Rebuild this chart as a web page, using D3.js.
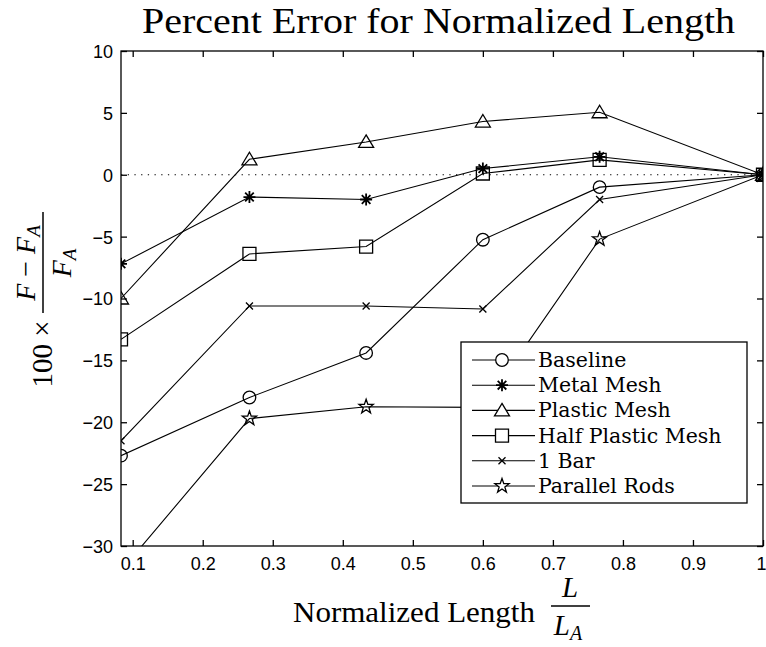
<!DOCTYPE html>
<html>
<head>
<meta charset="utf-8">
<script src="https://cdn.jsdelivr.net/npm/d3@7"></script>
<style>
  html, body { margin: 0; padding: 0; background: #fff; }
  svg { display: block; }
  .tick text { font-family: "Liberation Sans", Arial, sans-serif; font-size: 18px; fill: #000; }
</style>
</head>
<body>
<div id="chart"></div>
<script>
// ---------------- data ----------------
const lengths = [0.0833, 0.2667, 0.4333, 0.6, 0.7667, 1.0];
const seriesNames = ["Baseline", "Metal Mesh", "Plastic Mesh", "Half Plastic Mesh", "1 Bar", "Parallel Rods"];
const baseline        = [-22.7, -18.0, -14.4, -5.25, -1.0, 0];
const metalMesh       = [-7.2, -1.8, -2.0, 0.5, 1.45, 0];
const plasticMesh     = [-10.0, 1.25, 2.65, 4.3, 5.05, 0];
const halfPlasticMesh = [-13.3, -6.4, -5.8, 0.1, 1.2, 0];
const oneBar          = [-21.5, -10.6, -10.6, -10.85, -2.0, 0];
const parallelRods    = [-32.0, -19.7, -18.75, -18.8, -5.2, 0];
const xTickValues = [0.1, 0.2, 0.3, 0.4, 0.5, 0.6, 0.7, 0.8, 0.9, 1.0];
const xTickLabels = ["0.1", "0.2", "0.3", "0.4", "0.5", "0.6", "0.7", "0.8", "0.9", "1"];
const yTickValues = [-30, -25, -20, -15, -10, -5, 0, 5, 10];
const markerKinds = ["circle", "asterisk", "triangle", "square", "x", "pentagram"];

const allSeries = [baseline, metalMesh, plasticMesh, halfPlasticMesh, oneBar, parallelRods];

// ---------------- layout ----------------
const W = 766, H = 647;
const pLeft = 121, pRight = 763, pTop = 51, pBottom = 546;

const svg = d3.select("#chart").append("svg").attr("width", W).attr("height", H)
  .style("background", "#fff");

const x = d3.scaleLinear().domain([lengths[0], 1]).range([pLeft, pRight]);
const y = d3.scaleLinear().domain([-30, 10]).range([pBottom, pTop]);

svg.append("defs").append("clipPath").attr("id", "plotclip")
  .append("rect").attr("x", pLeft).attr("y", pTop).attr("width", pRight - pLeft).attr("height", pBottom - pTop);

// marker paths
function markerPath(kind) {
  switch (kind) {
    case "circle": return d3.symbol(d3.symbolCircle, Math.PI * 6.3 * 6.3)();
    case "asterisk": {
      const s = 6, k = 4.3;
      return `M${-s},0H${s}M0,${-s}V${s}M${-k},${-k}L${k},${k}M${-k},${k}L${k},${-k}`;
    }
    case "triangle": return "M0,-7L7.5,5.5L-7.5,5.5Z";
    case "square": return "M-6.5,-6.5H6.5V6.5H-6.5Z";
    case "x": { const s = 3.5; return `M${-s},${-s}L${s},${s}M${-s},${s}L${s},${-s}`; }
    case "pentagram": {
      const ro = 7.5, ri = 3.0; let p = "";
      for (let i = 0; i < 10; i++) {
        const r = i % 2 === 0 ? ro : ri;
        const a = -Math.PI / 2 + i * Math.PI / 5;
        p += (i === 0 ? "M" : "L") + (r * Math.cos(a)).toFixed(2) + "," + (r * Math.sin(a)).toFixed(2);
      }
      return p + "Z";
    }
  }
}

// zero dotted line
svg.append("line")
  .attr("x1", pLeft).attr("x2", pRight).attr("y1", y(0)).attr("y2", y(0))
  .attr("stroke", "#000").attr("stroke-width", 1.2).attr("stroke-dasharray", "1.3,5.4");

// series lines + markers
const line = d3.line().x((d, i) => x(lengths[i])).y(d => y(d));
const plot = svg.append("g").attr("clip-path", "url(#plotclip)");
allSeries.forEach((vals, si) => {
  plot.append("path").attr("d", line(vals)).attr("fill", "none")
    .attr("stroke", "#000").attr("stroke-width", 1.1);
  plot.selectAll(null).data(vals).enter().append("path")
    .attr("transform", (d, i) => `translate(${x(lengths[i])},${y(d)})`)
    .attr("d", markerPath(markerKinds[si]))
    .attr("fill", "none").attr("stroke", "#000")
    .attr("stroke-width", markerKinds[si] === "asterisk" ? 1.8 : 1.3);
});

// axes box
svg.append("rect").attr("x", pLeft).attr("y", pTop).attr("width", pRight - pLeft).attr("height", pBottom - pTop)
  .attr("fill", "none").attr("stroke", "#000").attr("stroke-width", 1.3);

const tickLen = 6;
const xAxisB = d3.axisBottom(x).tickValues(xTickValues).tickFormat((d, i) => xTickLabels[i])
  .tickSizeInner(-tickLen).tickSizeOuter(0).tickPadding(11);
const gxb = svg.append("g").attr("transform", `translate(0,${pBottom})`).call(xAxisB);
const xAxisT = d3.axisTop(x).tickValues(xTickValues).tickFormat("").tickSizeInner(-tickLen).tickSizeOuter(0);
const gxt = svg.append("g").attr("transform", `translate(0,${pTop})`).call(xAxisT);
const yAxisL = d3.axisLeft(y).tickValues(yTickValues).tickFormat(d3.format("d"))
  .tickSizeInner(-tickLen).tickSizeOuter(0).tickPadding(8);
const gyl = svg.append("g").attr("transform", `translate(${pLeft},0)`).call(yAxisL);
const yAxisR = d3.axisRight(y).tickValues(yTickValues).tickFormat("").tickSizeInner(-tickLen).tickSizeOuter(0);
const gyr = svg.append("g").attr("transform", `translate(${pRight},0)`).call(yAxisR);
[gxb, gxt, gyl, gyr].forEach(g => {
  g.select(".domain").remove();
  g.selectAll(".tick line").attr("stroke", "#000").attr("stroke-width", 1.3);
});
gyl.selectAll(".tick text").attr("dy", "0.36em");
// last x label sits flush with the right edge
gxb.selectAll(".tick text").filter(d => d === 1).attr("text-anchor", "end").attr("x", 3);

// title
svg.append("text").attr("x", 438.5).attr("y", 33).attr("text-anchor", "middle")
  .attr("font-family", "Liberation Serif, serif").attr("font-size", 35)
  .attr("textLength", 593).attr("lengthAdjust", "spacingAndGlyphs")
  .text("Percent Error for Normalized Length");

// x label
const serif = "Liberation Serif, serif";
svg.append("text").attr("x", 293).attr("y", 622).attr("font-family", serif).attr("font-size", 29)
  .attr("textLength", 242).attr("lengthAdjust", "spacingAndGlyphs").text("Normalized Length");
svg.append("text").attr("x", 570).attr("y", 597).attr("text-anchor", "middle")
  .attr("font-family", serif).attr("font-style", "italic").attr("font-size", 29).text("L");
svg.append("line").attr("x1", 551).attr("x2", 590).attr("y1", 606).attr("y2", 606)
  .attr("stroke", "#000").attr("stroke-width", 1.5);
const la = svg.append("text").attr("x", 568).attr("y", 635).attr("text-anchor", "middle")
  .attr("font-family", serif).attr("font-style", "italic").attr("font-size", 29);
la.append("tspan").text("L");
la.append("tspan").attr("font-size", 20).attr("dy", 5).text("A");

// y label (rotated)
const yl = svg.append("g").attr("transform", "translate(43,300) rotate(-90)");
yl.append("text").attr("x", -54).attr("y", 9).attr("text-anchor", "middle")
  .attr("font-family", serif).attr("font-size", 29).text("100 ×");
yl.append("line").attr("x1", -13).attr("x2", 88).attr("y1", 0).attr("y2", 0)
  .attr("stroke", "#000").attr("stroke-width", 1.5);
const num = yl.append("text").attr("x", 37).attr("y", -8).attr("text-anchor", "middle")
  .attr("font-family", serif).attr("font-size", 28);
num.append("tspan").attr("font-style", "italic").text("F");
num.append("tspan").text(" − ");
num.append("tspan").attr("font-style", "italic").text("F");
num.append("tspan").attr("font-style", "italic").attr("font-size", 19).attr("dy", 5).text("A");
const den = yl.append("text").attr("x", 37).attr("y", 28).attr("text-anchor", "middle")
  .attr("font-family", serif).attr("font-size", 28);
den.append("tspan").attr("font-style", "italic").text("F");
den.append("tspan").attr("font-style", "italic").attr("font-size", 19).attr("dy", 5).text("A");

// legend
const lg = svg.append("g");
lg.append("rect").attr("x", 461).attr("y", 342).attr("width", 286).attr("height", 161)
  .attr("fill", "#fff").attr("stroke", "#000").attr("stroke-width", 1.3);
seriesNames.forEach((name, i) => {
  const ry = 360 + i * 25.2;
  lg.append("line").attr("x1", 472).attr("x2", 535).attr("y1", ry).attr("y2", ry)
    .attr("stroke", "#000").attr("stroke-width", 1.1);
  lg.append("path").attr("transform", `translate(502,${ry})`).attr("d", markerPath(markerKinds[i]))
    .attr("fill", "#fff").attr("stroke", "#000")
    .attr("stroke-width", markerKinds[i] === "asterisk" ? 1.8 : 1.3);
  lg.append("text").attr("x", 538).attr("y", ry + 7).attr("font-family", "DejaVu Serif, serif")
    .attr("font-size", 20.5).text(name);
});
</script>
</body>
</html>
